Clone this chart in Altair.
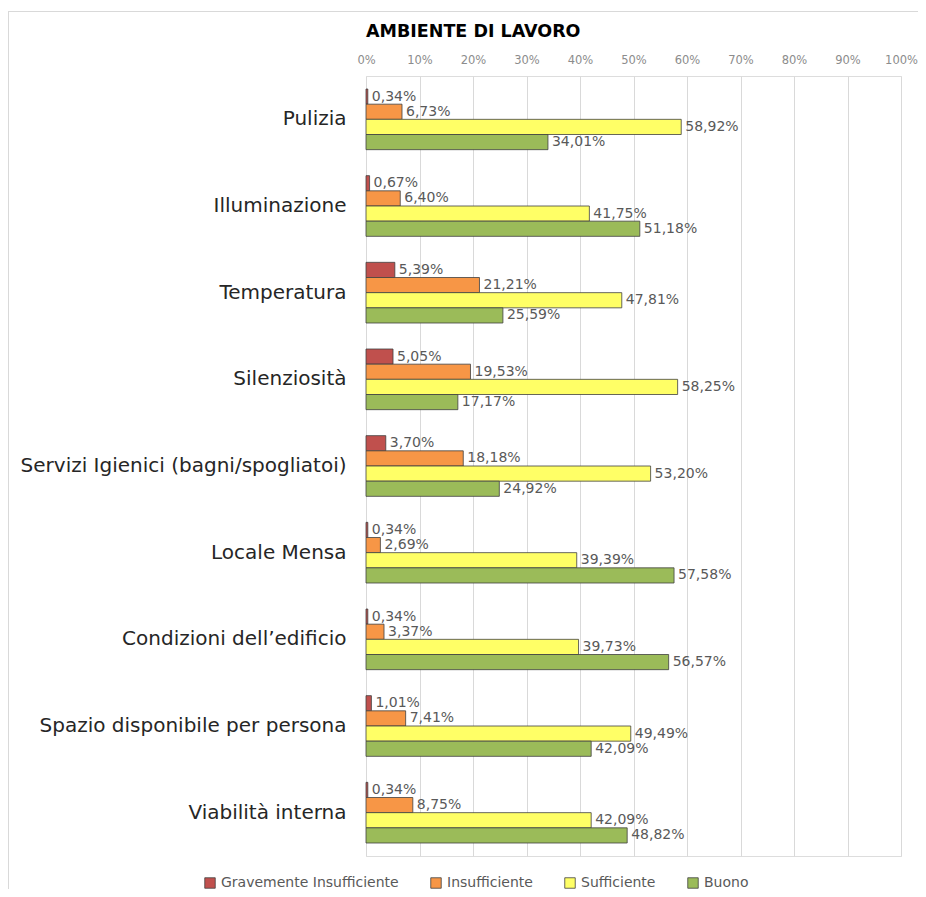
import altair as alt
import pandas as pd

categories = [
    "Pulizia",
    "Illuminazione",
    "Temperatura",
    "Silenziosità",
    "Servizi Igienici (bagni/spogliatoi)",
    "Locale Mensa",
    "Condizioni dell’edificio",
    "Spazio disponibile per persona",
    "Viabilità interna",
]
series = ["Gravemente Insufficiente", "Insufficiente", "Sufficiente", "Buono"]
colors = ["#C0504D", "#F79646", "#FFFF66", "#9BBB59"]
title_text = "AMBIENTE DI LAVORO"

grav = [0.34, 0.67, 5.39, 5.05, 3.70, 0.34, 0.34, 1.01, 0.34]
insuf = [6.73, 6.40, 21.21, 19.53, 18.18, 2.69, 3.37, 7.41, 8.75]
suff = [58.92, 41.75, 47.81, 58.25, 53.20, 39.39, 39.73, 49.49, 42.09]
buono = [34.01, 51.18, 25.59, 17.17, 24.92, 57.58, 56.57, 42.09, 48.82]

rows = []
for s_i, (s, vals) in enumerate(zip(series, [grav, insuf, suff, buono])):
    for c, v in zip(categories, vals):
        rows.append({
            "cat": c,
            "serie": s,
            "order": s_i,
            "val": v / 100.0,
            "label": f"{v:.2f}".replace(".", ",") + "%",
        })
df = pd.DataFrame(rows)

FONT = "DejaVu Sans"

y_enc = alt.Y("cat:N", sort=categories,
              scale=alt.Scale(paddingInner=0.3, paddingOuter=0.15),
              axis=alt.Axis(title=None, labelFontSize=20, labelColor="#262626",
                            labelFont=FONT, ticks=False, domain=False,
                            labelPadding=20, labelLimit=400))
yoff = alt.YOffset("serie:N", sort=series)

base = alt.Chart(df)

bars = base.mark_bar(stroke="#404040", strokeWidth=0.8).encode(
    x=alt.X("val:Q", scale=alt.Scale(domain=[0, 1]),
            axis=alt.Axis(orient="top", values=[i / 10 for i in range(11)],
                          format=".0%", title=None, labelColor="#8c8c8c",
                          labelFontSize=11.5, labelFont=FONT, ticks=False,
                          labelFlush=False,
                          domain=False, gridColor="#d9d9d9", labelPadding=11)),
    y=y_enc,
    yOffset=yoff,
    color=alt.Color("serie:N", sort=series,
                    scale=alt.Scale(domain=series, range=colors),
                    legend=alt.Legend(title=None, orient="none", direction="horizontal",
                                      legendX=-163, legendY=800,
                                      symbolType="square", symbolSize=110,
                                      symbolStrokeColor="#404040", symbolStrokeWidth=0.8,
                                      labelFontSize=14, labelColor="#595959",
                                      labelFont=FONT, columnPadding=30,
                                      labelLimit=300)),
)

texts = base.mark_text(align="left", baseline="middle", dx=4, fontSize=14,
                       color="#595959", font=FONT).encode(
    x="val:Q",
    y=alt.Y("cat:N", sort=categories),
    yOffset=yoff,
    text="label:N",
)

one = alt.Data(values=[{"t": title_text}])
title_mark = alt.Chart(one).mark_text(align="left", baseline="middle", fontSize=17.5,
                                      fontWeight="bold", font=FONT,
                                      color="#000000").encode(
    x=alt.value(0), y=alt.value(-44), text="t:N")

top_line = alt.Chart(one).mark_rule(color="#d9d9d9", strokeWidth=1).encode(
    x=alt.value(-358), x2=alt.value(560), y=alt.value(-64.5))
left_line = alt.Chart(one).mark_rule(color="#d9d9d9", strokeWidth=1).encode(
    x=alt.value(-357.5), y=alt.value(-64.5), y2=alt.value(820))

chart = alt.layer(bars, texts, title_mark, top_line, left_line).properties(
    width=535,
    height=780,
    padding={"left": 358, "top": 68, "right": 17, "bottom": 33},
    autosize=alt.AutoSizeParams(type="none"),
).configure_view(stroke=None).configure(background="white")

chart.save("out.html", embed_options={"renderer": "svg", "actions": False})
